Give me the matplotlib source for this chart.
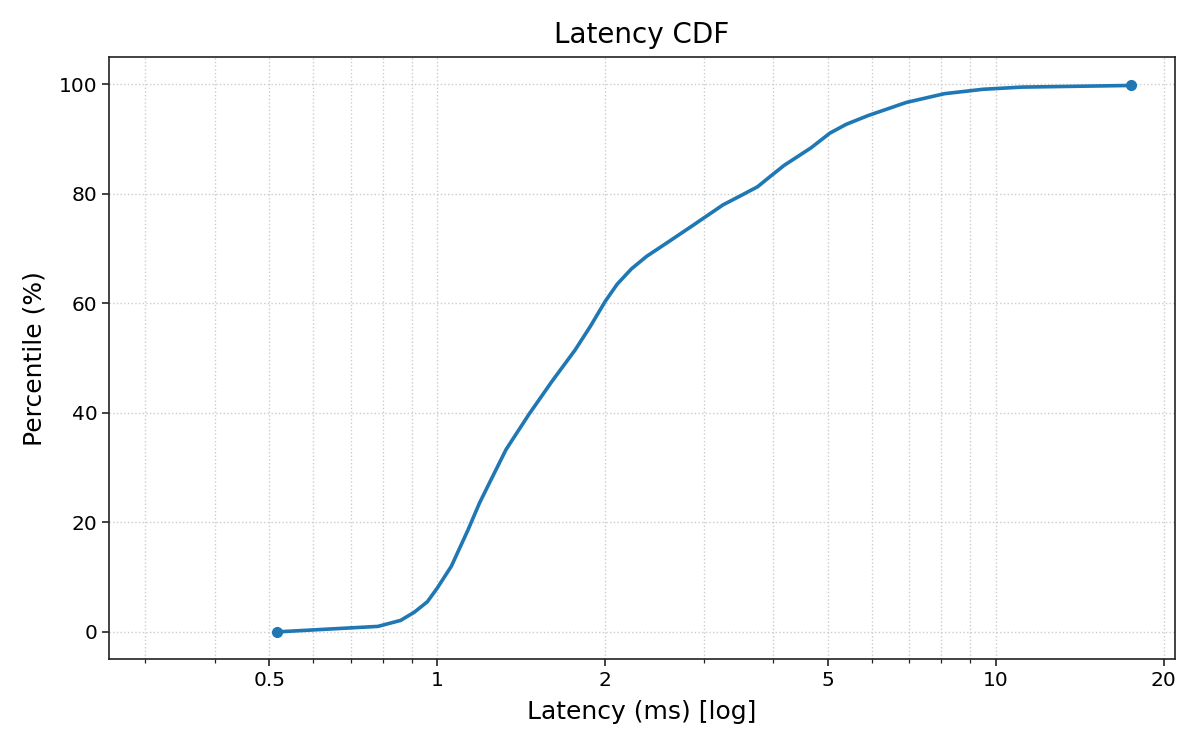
import matplotlib
matplotlib.use("Agg")
import matplotlib.pyplot as plt
from matplotlib.ticker import FixedLocator, FixedFormatter, LogLocator, NullFormatter

# latency (ms) and cumulative percentile
latency_ms = [0.517, 0.783, 0.86, 0.91, 0.96, 1.0, 1.06, 1.135, 1.19, 1.247, 1.328,
              1.461, 1.606, 1.766, 1.88, 2.0, 2.1, 2.227, 2.372, 2.6, 2.866, 3.25,
              3.5, 3.747, 3.95, 4.18, 4.67, 5.05, 5.4, 5.91, 6.92, 8.1, 9.49, 11.13, 17.45]
percentile = [0.0, 1.0, 2.1, 3.6, 5.5, 8.0, 12.0, 18.6, 23.5, 27.7, 33.3,
              39.8, 45.8, 51.5, 55.8, 60.4, 63.5, 66.3, 68.6, 71.3, 74.2, 78.0,
              79.7, 81.3, 83.2, 85.2, 88.4, 91.1, 92.7, 94.3, 96.7, 98.3, 99.1, 99.5, 99.8]

xticks = [0.5, 1, 2, 5, 10, 20]
xtick_labels = ["0.5", "1", "2", "5", "10", "20"]

fig, ax = plt.subplots(figsize=(12, 7.5), dpi=100)
ax.plot(latency_ms, percentile, color="#1f77b4", lw=2.6,
        marker="o", markersize=7, markevery=[0, len(latency_ms) - 1])

ax.set_xscale("log")
ax.set_xlim(latency_ms[0] * 0.5, latency_ms[-1] * 1.2)
ax.set_ylim(-5, 105)
ax.xaxis.set_major_locator(FixedLocator(xticks))
ax.xaxis.set_major_formatter(FixedFormatter(xtick_labels))
ax.xaxis.set_minor_locator(LogLocator(base=10, subs=range(2, 10)))
ax.xaxis.set_minor_formatter(NullFormatter())

ax.grid(True, which="both", linestyle=":", color="#cccccc", linewidth=1.0)
ax.tick_params(which="major", labelsize=14.5, length=5, width=1.2, color="#222222")
ax.tick_params(which="minor", length=3, width=0.9, color="#222222")
for sp in ax.spines.values():
    sp.set_linewidth(1.2)
    sp.set_color("#222222")

ax.set_title("Latency CDF", fontsize=20, pad=10)
ax.set_xlabel("Latency (ms) [log]", fontsize=18, labelpad=7)
ax.set_ylabel("Percentile (%)", fontsize=18, labelpad=9)

fig.subplots_adjust(left=0.091, right=0.979, top=0.924, bottom=0.121)
fig.savefig("out.png")
